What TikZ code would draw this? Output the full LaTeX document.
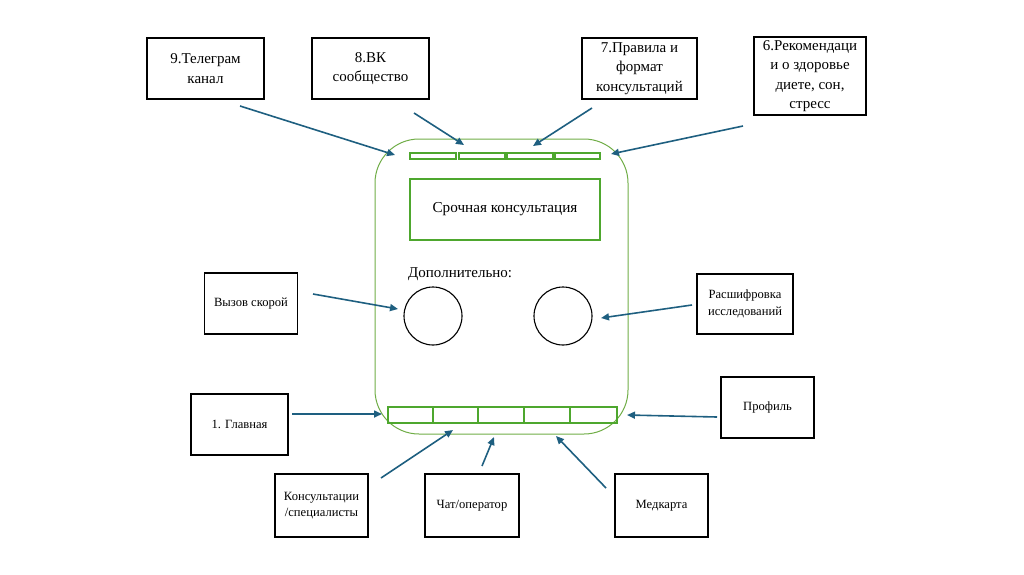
\documentclass[tikz,border=0pt]{standalone}
\usepackage{fontspec}
\setmainfont{Liberation Serif}
\usetikzlibrary{arrows.meta}
\definecolor{arr}{RGB}{30,95,128}
\definecolor{gbar}{RGB}{78,167,46}
\definecolor{gout}{RGB}{112,173,71}
\tikzset{
  box/.style={draw=black,line width=1.6pt,align=center,inner sep=0pt},
  bigtxt/.style={font=\fontsize{15}{19.5}\selectfont},
  smalltxt/.style={font=\fontsize{12.6}{16.5}\selectfont},
  bar/.style={draw=gbar,line width=1.5pt},
  con/.style={draw=arr,line width=1.6pt,-{Triangle[length=8pt,width=7pt]}},
  circ/.style={draw=black,line width=1.1pt,circle,minimum size=58pt,inner sep=0pt},
}
\begin{document}
\begin{tikzpicture}[x=1pt,y=-1pt]
\useasboundingbox (0,0) rectangle (1024,574);
% black boxes
\node[box,bigtxt,minimum width=117pt,minimum height=61pt] (tg) at (205.5,68.5) {9.Телеграм\\канал};
\node[box,bigtxt,minimum width=117pt,minimum height=61pt] (vk) at (370.5,68.5) {8.ВК\\сообщество};
\node[box,bigtxt,minimum width=115pt,minimum height=61pt] (rules) at (639.5,68.5) {7.Правила и\\формат\\консультаций};
\node[box,bigtxt,minimum width=112pt,minimum height=78pt] (rec) at (810,76) {6.Рекомендаци\\и о здоровье\\диете, сон,\\стресс};
\node[box,smalltxt,minimum width=93pt,minimum height=61pt] (amb) at (251,303.5) {Вызов скорой};
\node[box,smalltxt,minimum width=96pt,minimum height=60pt] (dec) at (745,304) {Расшифровка\\исследований};
\node[box,smalltxt,minimum width=97pt,minimum height=61pt] (main) at (239.5,424.5) {1. Главная};
\node[box,smalltxt,minimum width=93pt,minimum height=61pt] (prof) at (767.5,407.5) {Профиль};
\node[box,smalltxt,minimum width=93pt,minimum height=63pt] (cons) at (321.5,505.5) {Консультации\\/специалисты};
\node[box,smalltxt,minimum width=94pt,minimum height=63pt] (chat) at (472,505.5) {Чат/оператор};
\node[box,smalltxt,minimum width=93pt,minimum height=63pt] (med) at (661.5,505.5) {Медкарта};
% phone
\draw[gout,line width=1pt,rounded corners=44pt] (375,139) rectangle (628,434);
\foreach \a/\b [count=\i] in {410/456,459/505,507/553,555/600}
  \draw[bar] (\a,153) rectangle (\b,159) coordinate (t\i);
\node[draw=gbar,line width=1.5pt,minimum width=190pt,minimum height=61pt,font=\fontsize{15.2}{18}\selectfont] (urgent) at (505,209.5) {Срочная консультация};
\node[font=\fontsize{15}{18}\selectfont,anchor=west,inner sep=0pt] (extra) at (408,274) {Дополнительно:};
\node[circ] (c1) at (433,316) {};
\node[circ] (c2) at (563,316) {};
\foreach \a/\b [count=\i] in {388/433,433/478,478/524,524/570,570/617}
  \draw[bar] (\a,407) rectangle (\b,423);
% arrow coordinates
\coordinate (s1) at (240,106); \coordinate (e1) at (395,155);
\coordinate (s2) at (414,113); \coordinate (e2) at (464,145);
\coordinate (s3) at (592,108); \coordinate (e3) at (533,146);
\coordinate (s4) at (743,126); \coordinate (e4) at (611,154);
\coordinate (s5) at (313,294); \coordinate (e5) at (398,309);
\coordinate (s6) at (692,305); \coordinate (e6) at (601,318);
\coordinate (s7) at (292,414); \coordinate (e7) at (382,414);
\coordinate (s8) at (717,417); \coordinate (e8) at (627,415);
\coordinate (s9) at (381,478); \coordinate (e9) at (453,430);
\coordinate (s10) at (482,466); \coordinate (e10) at (494,437);
\coordinate (s11) at (606,488); \coordinate (e11) at (556,436);
\foreach \i in {1,...,11} \draw[con] (s\i) -- (e\i);
\end{tikzpicture}
\end{document}
